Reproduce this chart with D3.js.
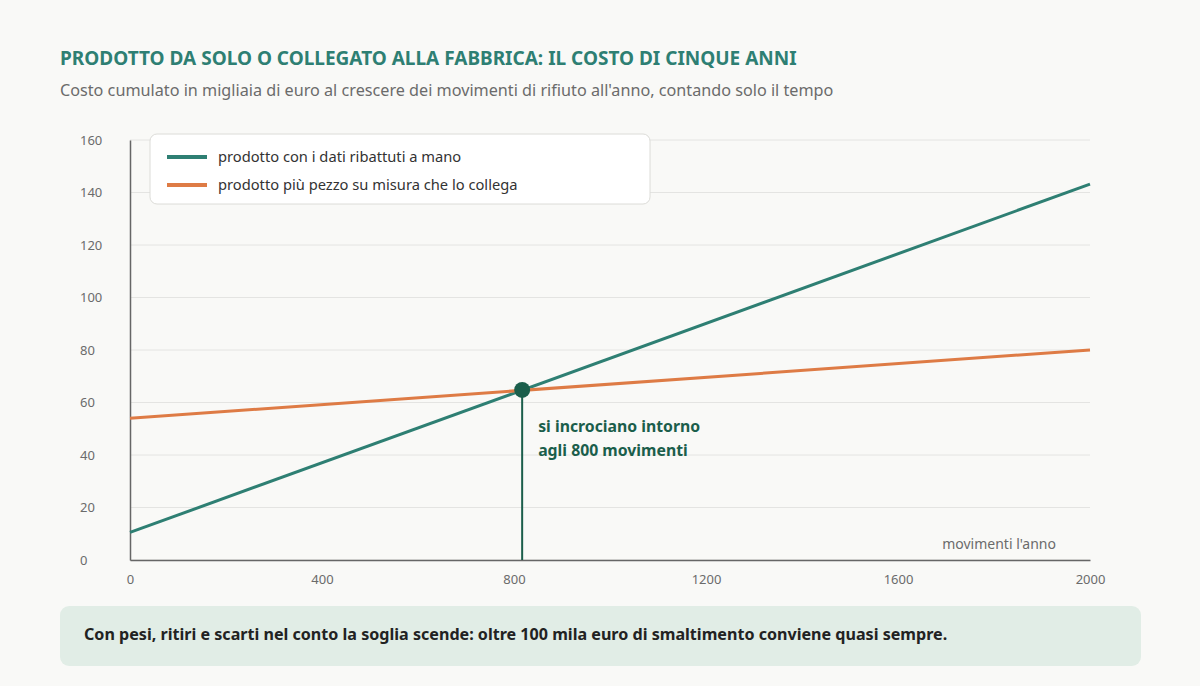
<!DOCTYPE html>
<html>
<head>
<meta charset="utf-8">
<script src="https://cdn.jsdelivr.net/npm/d3@7"></script>
<style>
  html, body { margin: 0; padding: 0; background: #f9f9f7; }
  svg { display: block; font-family: "Noto Sans", sans-serif; }
</style>
</head>
<body>
<svg id="chart" width="1200" height="686"></svg>
<script>
// dati (migliaia di euro)
const movimenti = [0, 2000];
const costo_a_mano = [10.5, 143.2];
const costo_collegato = [54, 80];
const incrocio = { x: 817, y: 64.8 };
const y_ticks = [0, 20, 40, 60, 80, 100, 120, 140, 160];
const x_ticks = [0, 400, 800, 1200, 1600, 2000];
const serie = [
  { name: "prodotto con i dati ribattuti a mano", values: costo_a_mano, color: "#2e7f73" },
  { name: "prodotto più pezzo su misura che lo collega", values: costo_collegato, color: "#de7b45" },
];

const svg = d3.select("#chart");
const margin = { top: 140, right: 110, bottom: 126, left: 130 };
const width = 1200, height = 686;

svg.append("text")
  .attr("x", 60).attr("y", 65)
  .attr("font-size", 19).attr("font-weight", 700)
  .attr("fill", "#2e7f73")
  .text("PRODOTTO DA SOLO O COLLEGATO ALLA FABBRICA: IL COSTO DI CINQUE ANNI");

svg.append("text")
  .attr("x", 60).attr("y", 96)
  .attr("font-size", 16.2)
  .attr("fill", "#6b6b6b")
  .text("Costo cumulato in migliaia di euro al crescere dei movimenti di rifiuto all'anno, contando solo il tempo");

const x = d3.scaleLinear().domain([0, 2000]).range([margin.left, width - margin.right]);
const y = d3.scaleLinear().domain([0, 160]).range([height - margin.bottom, margin.top]);

// griglia
svg.append("g")
  .selectAll("line")
  .data(y_ticks)
  .join("line")
  .attr("x1", margin.left).attr("x2", width - margin.right)
  .attr("y1", (d) => y(d)).attr("y2", (d) => y(d))
  .attr("stroke", "#e4e4e2").attr("stroke-width", 1);

// asse y
const yAxis = (g) =>
  g.attr("transform", `translate(${ margin.left },0)`)
    .call(d3.axisLeft(y).tickValues(y_ticks).tickSize(0).tickPadding(34))
    .call((g) => g.select(".domain").attr("stroke", "#666").attr("stroke-width", 1.5))
    .call((g) => g.selectAll("text").attr("fill", "#6b6b6b").attr("font-size", 13)
      .attr("font-family", "Noto Sans, sans-serif").attr("text-anchor", "start").attr("dx", -16));

// asse x
const xAxis = (g) =>
  g.attr("transform", `translate(0,${ height - margin.bottom })`)
    .call(d3.axisBottom(x).tickValues(x_ticks).tickSize(0).tickPadding(15).tickFormat(d3.format("d")))
    .call((g) => g.select(".domain").attr("stroke", "#666").attr("stroke-width", 1.5))
    .call((g) => g.selectAll("text").attr("fill", "#6b6b6b").attr("font-size", 13)
      .attr("font-family", "Noto Sans, sans-serif"));

svg.append("g").call(yAxis);
svg.append("g").call(xAxis);

svg.append("text")
  .attr("x", x(2000) - 34).attr("y", y(0) - 11)
  .attr("text-anchor", "end")
  .attr("font-size", 14).attr("fill", "#6b6b6b")
  .text("movimenti l'anno");

// linee
const line = d3.line().x((d, i) => x(movimenti[i])).y((d) => y(d));
svg.append("g")
  .selectAll("path")
  .data(serie)
  .join("path")
  .attr("d", (d) => line(d.values))
  .attr("fill", "none")
  .attr("stroke", (d) => d.color)
  .attr("stroke-width", 3);

// annotazione incrocio
svg.append("line")
  .attr("x1", x(incrocio.x)).attr("x2", x(incrocio.x))
  .attr("y1", y(incrocio.y)).attr("y2", y(0))
  .attr("stroke", "#1b5e4b").attr("stroke-width", 2);

svg.append("circle")
  .attr("cx", x(incrocio.x)).attr("cy", y(incrocio.y))
  .attr("r", 8)
  .attr("fill", "#1b5e4b");

svg.append("text")
  .attr("x", x(incrocio.x) + 16).attr("y", y(incrocio.y) + 42)
  .attr("font-size", 15.8).attr("font-weight", 700).attr("fill", "#1b5e4b")
  .selectAll("tspan")
  .data(["si incrociano intorno", "agli 800 movimenti"])
  .join("tspan")
  .attr("x", x(incrocio.x) + 16)
  .attr("dy", (d, i) => (i === 0 ? 0 : 24))
  .text((d) => d);

// legenda
const legend = svg.append("g").attr("transform", "translate(150,134)");
legend.append("rect")
  .attr("width", 500).attr("height", 70).attr("rx", 7)
  .attr("fill", "#fff").attr("stroke", "#dcdcd8");
const item = legend.selectAll("g")
  .data(serie)
  .join("g")
  .attr("transform", (d, i) => `translate(17,${ 23 + i * 28 })`);
item.append("line")
  .attr("x1", 0).attr("x2", 40)
  .attr("stroke", (d) => d.color).attr("stroke-width", 4);
item.append("text")
  .attr("x", 51).attr("dy", "0.35em")
  .attr("font-size", 14.7).attr("fill", "#333")
  .text((d) => d.name);

// nota in fondo
svg.append("rect")
  .attr("x", 60).attr("y", 606).attr("width", 1081).attr("height", 60).attr("rx", 9)
  .attr("fill", "#e1ede6");
svg.append("text")
  .attr("x", 84).attr("y", 640)
  .attr("font-size", 16.1).attr("font-weight", 700).attr("fill", "#222")
  .text("Con pesi, ritiri e scarti nel conto la soglia scende: oltre 100 mila euro di smaltimento conviene quasi sempre.");
</script>
</body>
</html>
